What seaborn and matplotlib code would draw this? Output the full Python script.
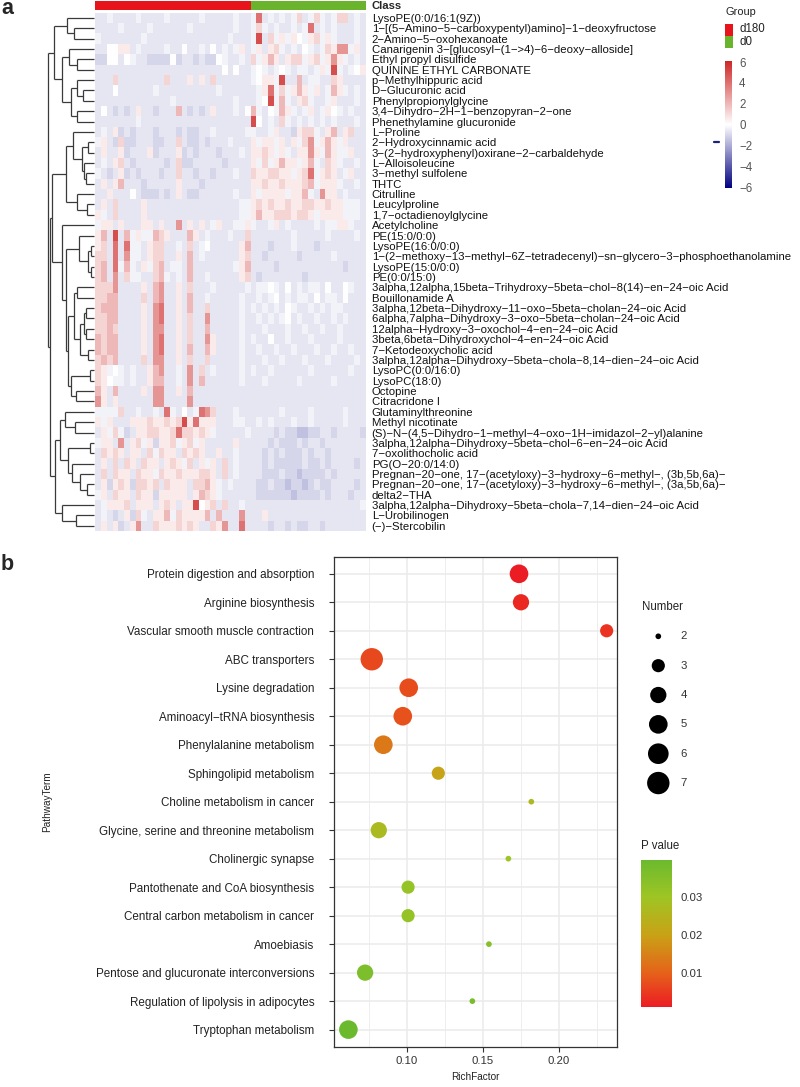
import numpy as np
import pandas as pd
import matplotlib
matplotlib.use("Agg")
import matplotlib.pyplot as plt
import seaborn as sns
from matplotlib.colors import LinearSegmentedColormap, ListedColormap, Normalize
from matplotlib.cm import ScalarMappable
from matplotlib.patches import Rectangle
from matplotlib.lines import Line2D

sns.set_theme(style="white")
plt.rcParams['font.family'] = ['Liberation Sans', 'DejaVu Sans']

# ------------------------------------------------------------------ panel a data
metabolites = [
    "LysoPE(0:0/16:1(9Z))",
    "1-[(5-Amino-5-carboxypentyl)amino]-1-deoxyfructose",
    "2-Amino-5-oxohexanoate",
    "Canarigenin 3-[glucosyl-(1->4)-6-deoxy-alloside]",
    "Ethyl propyl disulfide",
    "QUININE ETHYL CARBONATE",
    "p-Methylhippuric acid",
    "D-Glucuronic acid",
    "Phenylpropionylglycine",
    "3,4-Dihydro-2H-1-benzopyran-2-one",
    "Phenethylamine glucuronide",
    "L-Proline",
    "2-Hydroxycinnamic acid",
    "3-(2-hydroxyphenyl)oxirane-2-carbaldehyde",
    "L-Alloisoleucine",
    "3-methyl sulfolene",
    "THTC",
    "Citrulline",
    "Leucylproline",
    "1,7-octadienoylglycine",
    "Acetylcholine",
    "PE(15:0/0:0)",
    "LysoPE(16:0/0:0)",
    "1-(2-methoxy-13-methyl-6Z-tetradecenyl)-sn-glycero-3-phosphoethanolamine",
    "LysoPE(15:0/0:0)",
    "PE(0:0/15:0)",
    "3alpha,12alpha,15beta-Trihydroxy-5beta-chol-8(14)-en-24-oic Acid",
    "Bouillonamide A",
    "3alpha,12beta-Dihydroxy-11-oxo-5beta-cholan-24-oic Acid",
    "6alpha,7alpha-Dihydroxy-3-oxo-5beta-cholan-24-oic Acid",
    "12alpha-Hydroxy-3-oxochol-4-en-24-oic Acid",
    "3beta,6beta-Dihydroxychol-4-en-24-oic Acid",
    "7-Ketodeoxycholic acid",
    "3alpha,12alpha-Dihydroxy-5beta-chola-8,14-dien-24-oic Acid",
    "LysoPC(0:0/16:0)",
    "LysoPC(18:0)",
    "Octopine",
    "Citracridone I",
    "Glutaminylthreonine",
    "Methyl nicotinate",
    "(S)-N-(4,5-Dihydro-1-methyl-4-oxo-1H-imidazol-2-yl)alanine",
    "3alpha,12alpha-Dihydroxy-5beta-chol-6-en-24-oic Acid",
    "7-oxolithocholic acid",
    "PG(O-20:0/14:0)",
    "Pregnan-20-one, 17-(acetyloxy)-3-hydroxy-6-methyl-, (3b,5b,6a)-",
    "Pregnan-20-one, 17-(acetyloxy)-3-hydroxy-6-methyl-, (3a,5b,6a)-",
    "delta2-THA",
    "3alpha,12alpha-Dihydroxy-5beta-chola-7,14-dien-24-oic Acid",
    "L-Urobilinogen",
    "(-)-Stercobilin",
]

group_names = ["d180", "d0"]
group_sizes = [27, 20]

# scaled intensity levels
level_values = {'N': -1.5, 'M': -1.0, 'L': -0.6, 'K': -0.3, '0': 0.0,
                '1': 0.6, '2': 1.2, '3': 2.0, '4': 3.0, '5': 4.0, '6': 5.0}

# one string per metabolite: 27 d180 samples | 20 d0 samples
heat_rows = [
    "LLKLLLLKLLLLKLLLLLKLLLLLKLL|K5LKLKLK2LK2KLK22LKL",
    "LLLLKLLLLKLLLLLLKLLLLLLLKLL|K2KLKLLKLK5LKLKLLLKL",
    "KLLLLLLLKLLLLLLLLLLLLLLKLLL|K6L2K1K10K12K1KLLLKL",
    "LL0011LKLLLLKLL0LLKL0LKLK1L|K1L12KLKL0KLK2144K1L",
    "MM00L0KLLMMMM0MLLMLMM0KLLKL|2K131L122K12K141KLKL",
    "LLLLLLLLLLLLLLLLLLLLLL0L0LL|K0KLK0KLKKLK1K6KLK01",
    "LLL2LLLLLLLL2LLL1L1L2LLLLLL|K011K6LL3LKKLL21LLLL",
    "LLL0LLLLLLKLLLLLLLLLLKLLLLL|LK15K2K131K1LK31KLKL",
    "LLLLLLLLLLLLLKLLLLLLLLLLKLL|LK06K3KL12KLLK1LLLKL",
    "L0LMLML1LLMLLL3LMLML1LLLKL0|3KL0K31KLK1LK10KLKLL",
    "LLLLLLLKLLLLLLLLLLLLLLLLLLL|60LKL2KLKLKLKLKLLLKL",
    "LKL1MLMLLLMLLLMLMMLLKLLLLLK|KLLK1LLM122KL13L12LL",
    "K1LM2MMLLLMMLL2LMMLMLLLKLLL|1K11K1L1K24K131K1LLL",
    "L1LL1MLLL1MLLL1MLMLLLMLLLKL|1121K1KL1141K31KK1LL",
    "LKL12LMLLLLLML2MMLLLLLMLLLL|1K2K1311K13KL21KLLKL",
    "KLML1MLMLLLMLL2LLMLLMLLLKLL|2112211K125K121LK1LL",
    "L1L13LLLMLLLLL1LLLMLLLLLLLL|11211211123K111KLLKL",
    "LL1LLL0LMMMLML1LMMLLLLLLKLL|1K1111K113KL411LKLLL",
    "L1L2LLLL1LLLLLLLLLLLLLLLLKK|1212112112211211KKKL",
    "1KL2LLLL1LLLLLLLLLLLLLLLLKK|13112221221K1111KKKL",
    "K11L1LLL11L1LL4L1L1LK1LLKK1|KLLK1LKLLLLKLKK11KLL",
    "13L6L3K1KK321LLL31LKLLLKLL2|LLLLLLLKLLLLLKLLLLKL",
    "12L5L5KKL122LLKL2LK0LLLLL13|LLLMLLLKLLLMLLLLLLLL",
    "22L5L4KKL122LL1L3LKLLLLLL12|LLMLLLLLMLLLLLKLLLLL",
    "23L5K3KL1K23LKKL3LLLLLLLK13|LLLLMLLLLLLLLLLLMLLL",
    "23L4L2KKLL23KLKL3LLKLLLLL12|LMLLLLLLLMLLLLLLLLLL",
    "2224LLLL1L34LL1L2LLLKLLLLLK|LKK0KL0LKLKKL0LL0KLL",
    "2233LLLL2L34LL1L3LLKLLLLLKL|LKLK0LKLKKL0LKKL0LLL",
    "2333LLLL1L45LL1L3LL2LLLLLKL|KLKLKL0KLLKLKLKKLLLL",
    "2233LLLL1L45LL1L2LL4LLLLLKL|LKLKLK0LKLLKLLKLKLLL",
    "2232LLLL1L44LL1L2LL3LLLLLKL|LLKLLLKLLKLLKLLKLLLL",
    "3233LLLL1L45LL1L2LL41LLLLKL|KLL0LLKLLLKLLLLKLLLL",
    "3233LLLL1L45LL1L3LL31LLLLKL|LKLLKLLKLLLKLLKLLKLL",
    "2323LLLL2L44LL1L2LL2LLLLLKL|LLKLLKLLLKLLLKLLLLKL",
    "21K0KLKLL134LLKL4L2LKLLLLKL|KLLKLLLLLLKLLLLLLKLL",
    "210KKLKLL133LLKL4L3LLLLLLKL|LLKLLLLLKLLLLLKLLLLL",
    "31L3LLLL1L44LL1L3LLLLLLLLLL|LLLLLLLLLLLLLLLLLLLL",
    "41L1LLLLLL44LLLL4LLLLLLLLLL|LLLLLLLLLLLLLLLLLLLL",
    "KKKK2LLKLLKL5KL0LK542LLLKLL|LLLLLKLLLLKLLLLLKLLL",
    "1K1LLL111211212615111LLLKKL|LKLKLLLKLLKLLLLLKLLL",
    "L1K2KML1122112522121KLLLLLK|LLLLMLMMNNMMLLMLLLLM",
    "K11L4L12K1M112K12K1LLLLL1LL|LLLMLMMMLMLLMLLLLLLL",
    "L2121L11L2K211L2121LL1LLKLL|LLMLMLMMMLMLLMLLLLLL",
    "L1L2L21L211L121K2L1K1L2LKLL|LLMLMMMMMLMMLMLLLLML",
    "L2L211L211K2112111221L2LKLL|LLMMMLMMNMMMMLMLLLLL",
    "L1M121M2212L2111L2231KLKLLL|LMMLMMNMMNMLMMLLLLML",
    "K1L211L211M11111L1321KLLLLL|LMMMMMMNMMMMLMLLLMLL",
    "LK1112L111L121L116012L2LLKL|LLLLLLLLLLLLLLLLLLLK",
    "LKLML1M2KL113K211113L3LLL4L|LL1LLLLLLLLLLLLLLLLL",
    "L1L1ML14LL21112121LL214LL5L|LLLMLLMLMMLLMLLLLLLL",
]

# row dendrogram: (left, right, merge height); leaves are row indices
tree_top = ((0, (1, 2, 20.3), 27.6),
            ((3, (4, 5, 17.3), 25.3),
             ((6, (7, 8, 11.3), 17.3), (9, 10, 17.3), 23.3), 32.6), 40.0)
tree_x = ((11, ((12, 13, 6), (14, (15, 16, 8), 10), 12), 21),
          (17, (18, 19, 7), 17), 28.0)
tree_y = (20, ((21, ((22, 23, 3), (24, 25, 3), 6), 15),
               (((26, 27, 17), (((28, 29, 8), (30, 31, 8), 10), (32, 33, 6), 14), 20),
                ((34, 35, 4), (36, 37, 18), 23), 26), 28.5), 32.6)
tree_c = (((38, (39, 40, 19), 29),
           ((41, 42, 4), (43, (44, (45, 46, 7), 14), 22), 26), 34),
          (47, (48, 49, 18.3), 32.6), 39.3)
row_tree = (tree_top, ((tree_x, tree_y, 42.3), tree_c, 44.8), 46.6)

# ------------------------------------------------------------------ panel b data
pathways = [
    "Protein digestion and absorption",
    "Arginine biosynthesis",
    "Vascular smooth muscle contraction",
    "ABC transporters",
    "Lysine degradation",
    "Aminoacyl-tRNA biosynthesis",
    "Phenylalanine metabolism",
    "Sphingolipid metabolism",
    "Choline metabolism in cancer",
    "Glycine, serine and threonine metabolism",
    "Cholinergic synapse",
    "Pantothenate and CoA biosynthesis",
    "Central carbon metabolism in cancer",
    "Amoebiasis",
    "Pentose and glucuronate interconversions",
    "Regulation of lipolysis in adipocytes",
    "Tryptophan metabolism",
]
rich_factor = [0.1739, 0.1752, 0.2316, 0.0770, 0.1013, 0.0974, 0.0846, 0.1208, 0.1820,
               0.0816, 0.1669, 0.1009, 0.1009, 0.1541, 0.0726, 0.1432, 0.0616]
number = [5, 4, 3, 7, 5, 5, 5, 3, 2, 4, 2, 3, 3, 2, 4, 2, 5]
p_value = [0.0012, 0.0025, 0.0040, 0.0068, 0.0072, 0.0080, 0.0135, 0.0205, 0.0262,
           0.0270, 0.0300, 0.0315, 0.0318, 0.0345, 0.0365, 0.0370, 0.0397]
number_breaks = [2, 3, 4, 5, 6, 7]
p_limits = (0.0011, 0.0397)
p_breaks = [0.01, 0.02, 0.03]

# ------------------------------------------------------------------ helpers
W, H = 800, 1087
fig = plt.figure(figsize=(W / 100, H / 100), dpi=100)


def add_ax(x0, y0, x1, y1):
    return fig.add_axes([x0 / W, 1 - y1 / H, (x1 - x0) / W, (y1 - y0) / H])


def ftext(x, y, s, **kw):
    fig.text(x / W, 1 - y / H, s, **kw)


def frect(x0, y0, x1, y1, color):
    fig.add_artist(Rectangle((x0 / W, 1 - y1 / H), (x1 - x0) / W, (y1 - y0) / H,
                             transform=fig.transFigure, color=color, lw=0))


def disp(s):
    return s.replace('-', '\u2212')


RED, GREEN = '#E8141C', '#6AB42D'

# ------------------------------------------------------------------ panel a
rows = [r.replace('|', '') for r in heat_rows]
n_cols = sum(group_sizes)
for r in rows:
    assert len(r) == n_cols, (r, len(r))
mat = np.array([[level_values[c] for c in r] for r in rows])
samples = [f"{g}_{i + 1}" for g, n in zip(group_names, group_sizes) for i in range(n)]
df = pd.DataFrame(mat, index=metabolites, columns=samples)

HX0, HX1, HY0, HY1 = 95.3, 365.7, 12.7, 531.0
cmap_h = LinearSegmentedColormap.from_list('nwf', ['#000080', '#FFFFFF', '#CD2626'])
ax_h = add_ax(HX0, HY0, HX1, HY1)
sns.heatmap(df, ax=ax_h, cmap=cmap_h, vmin=-6.1, vmax=6.1, cbar=False,
            xticklabels=False, yticklabels=False, rasterized=True)
ax_h.set_yticks(np.arange(len(metabolites)) + 0.5)
ax_h.set_yticklabels([disp(m) for m in metabolites], fontsize=8.2, color='#111111')
ax_h.yaxis.tick_right()
ax_h.tick_params(axis='y', length=0, pad=4.3)
ax_h.set_xlabel('')
ax_h.set_ylabel('')

# class annotation bar
ax_c = add_ax(HX0, 1.3, HX1, 10.0)
codes = np.array([[gi for gi, n in enumerate(group_sizes) for _ in range(n)]])
sns.heatmap(codes, ax=ax_c, cmap=ListedColormap([RED, GREEN]), vmin=-0.5, vmax=1.5,
            cbar=False, xticklabels=False, yticklabels=False)
ftext(371.7, 6.0, "Class", fontsize=8.1, fontweight='bold', va='center', ha='left')

# dendrogram
ax_d = add_ax(47.7, HY0, 94.3, HY1)


def draw_node(node):
    if isinstance(node, int):
        return node + 0.5, 0.0
    left, right, h = node
    yl, hl = draw_node(left)
    yr, hr = draw_node(right)
    kw = dict(color='#3a3a3a', lw=0.9, solid_capstyle='butt', clip_on=False)
    ax_d.plot([hl, h], [yl, yl], **kw)
    ax_d.plot([hr, h], [yr, yr], **kw)
    ax_d.plot([h, h], [yl, yr], **kw)
    return (yl + yr) / 2, h


draw_node(row_tree)
ax_d.set_xlim(row_tree[2], 0)
ax_d.set_ylim(len(metabolites), 0)
ax_d.axis('off')

# legends panel a
ftext(726, 11.7, "Group", fontsize=7.9, va='center', ha='left', color='#222222')
frect(725, 24, 733, 35.7, RED)
frect(725, 36, 733, 47.7, GREEN)
ftext(739, 29.5, "d180", fontsize=8.3, va='center', ha='left', color='#222222')
ftext(739, 42.3, "d0", fontsize=8.3, va='center', ha='left', color='#222222')

cax_a = add_ax(725, 61, 731.7, 188.3)
cb_a = fig.colorbar(ScalarMappable(norm=Normalize(-6.1, 6.1), cmap=cmap_h), cax=cax_a,
                    ticks=[-6, -4, -2, 0, 2, 4, 6])
cb_a.outline.set_visible(False)
cax_a.tick_params(length=0, labelsize=8.3, labelcolor='#555555', pad=5.3)
fig.add_artist(Line2D([714 / W, 719 / W], [1 - 142.3 / H, 1 - 142.3 / H],
                      transform=fig.transFigure, color='#1a237e', lw=1.6))

ftext(1.5, 14, "a", fontsize=15.5, fontweight='bold', va='baseline', ha='left')

# ------------------------------------------------------------------ panel b
p_colors = [(0.0, '#EC1C24'), (0.23, '#E5621A'), (0.49, '#C9A216'),
            (0.75, '#9EC524'), (1.0, '#6BBA2E')]
cmap_p = LinearSegmentedColormap.from_list('pv', p_colors)
norm_p = Normalize(*p_limits)

R_MAX = 11.2  # px radius of the largest bubble


def bubble_area(v):
    frac = (v - min(number_breaks)) / (max(number_breaks) - min(number_breaks))
    size = 1 + 5 * np.sqrt(frac)            # ggplot-like size range (1, 6)
    r_px = R_MAX * (2.845 * size + 2.0) / (2.845 * 6 + 2.0)
    return (2 * r_px * 0.72) ** 2


size_map = {v: bubble_area(v) for v in number_breaks}

dfb = pd.DataFrame({"PathwayTerm": pathways, "RichFactor": rich_factor,
                    "Number": number, "P": p_value})
dfb["pos"] = np.arange(len(pathways))

ax_b = add_ax(333.5, 556.7, 617.3, 1046.7)
sns.scatterplot(data=dfb, x="RichFactor", y="pos", size="Number", sizes=size_map,
                hue="P", palette=cmap_p, hue_norm=norm_p, legend=False,
                linewidth=0, ax=ax_b, zorder=3)
ax_b.set_xlim(0.0518, 0.2386)
ax_b.set_ylim(len(pathways) - 1 + 0.6, -0.6)
ax_b.set_xticks([0.10, 0.15, 0.20])
ax_b.set_xticklabels(["0.10", "0.15", "0.20"])
ax_b.set_xticks([0.075, 0.125, 0.175, 0.225], minor=True)
ax_b.set_yticks(dfb["pos"])
ax_b.set_yticklabels([disp(p) for p in pathways])
ax_b.set_facecolor('white')
ax_b.grid(which='major', color='#EBEBEB', lw=1.15)
ax_b.grid(which='minor', axis='x', color='#EBEBEB', lw=0.6)
ax_b.set_axisbelow(True)
for sp in ax_b.spines.values():
    sp.set_visible(True)
    sp.set_color('#333333')
    sp.set_linewidth(0.9)
ax_b.tick_params(axis='y', which='major', length=3.5, width=0.8, color='#333333',
                 labelsize=8.4, labelcolor='#222222', pad=10.3, left=True)
ax_b.tick_params(axis='x', which='major', length=3.5, width=0.8, color='#333333',
                 labelsize=8.2, labelcolor='#333333', pad=3.2, bottom=True)
ax_b.tick_params(axis='x', which='minor', length=0)
ax_b.set_xlabel('')
ax_b.set_ylabel('')

ftext(475.4, 1077, "RichFactor", fontsize=7.2, ha='center', va='center', color='#222222')
ftext(47, 801.7, "PathwayTerm", fontsize=7.2, ha='center', va='center', rotation=90,
      color='#222222')
ftext(0.5, 570, "b", fontsize=15.5, fontweight='bold', va='baseline', ha='left')

# Number legend
ftext(641.7, 606.8, "Number", fontsize=8.3, ha='left', va='center', color='#222222')
ax_nl = add_ax(630, 620, 700, 800)
ax_nl.set_xlim(630, 700)
ax_nl.set_ylim(800, 620)
ax_nl.axis('off')
leg_y = 636.3 + 29.35 * np.arange(len(number_breaks))
ax_nl.scatter([658.3] * len(number_breaks), leg_y,
              s=[size_map[v] for v in number_breaks], color='black', lw=0)
for v, yy in zip(number_breaks, leg_y):
    ax_nl.text(680.7, yy, str(v), fontsize=8.2, ha='left', va='center', color='#333333')

# P value colour bar
ftext(641.3, 846, "P value", fontsize=8.3, ha='left', va='center', color='#222222')
cax_b = add_ax(641.3, 860, 671.7, 1007)
cb_b = fig.colorbar(ScalarMappable(norm=norm_p, cmap=cmap_p), cax=cax_b, ticks=p_breaks)
cb_b.outline.set_visible(False)
cb_b.ax.set_yticklabels([f"{b:.2f}" for b in p_breaks])
cb_b.ax.minorticks_off()
cax_b.tick_params(which='major', direction='in', length=4.2, width=0.8, color='white',
                  left=True, right=True, labelleft=False, labelright=True,
                  labelsize=8.2, labelcolor='#333333', pad=6.5)

fig.savefig("out.png", dpi=100)
